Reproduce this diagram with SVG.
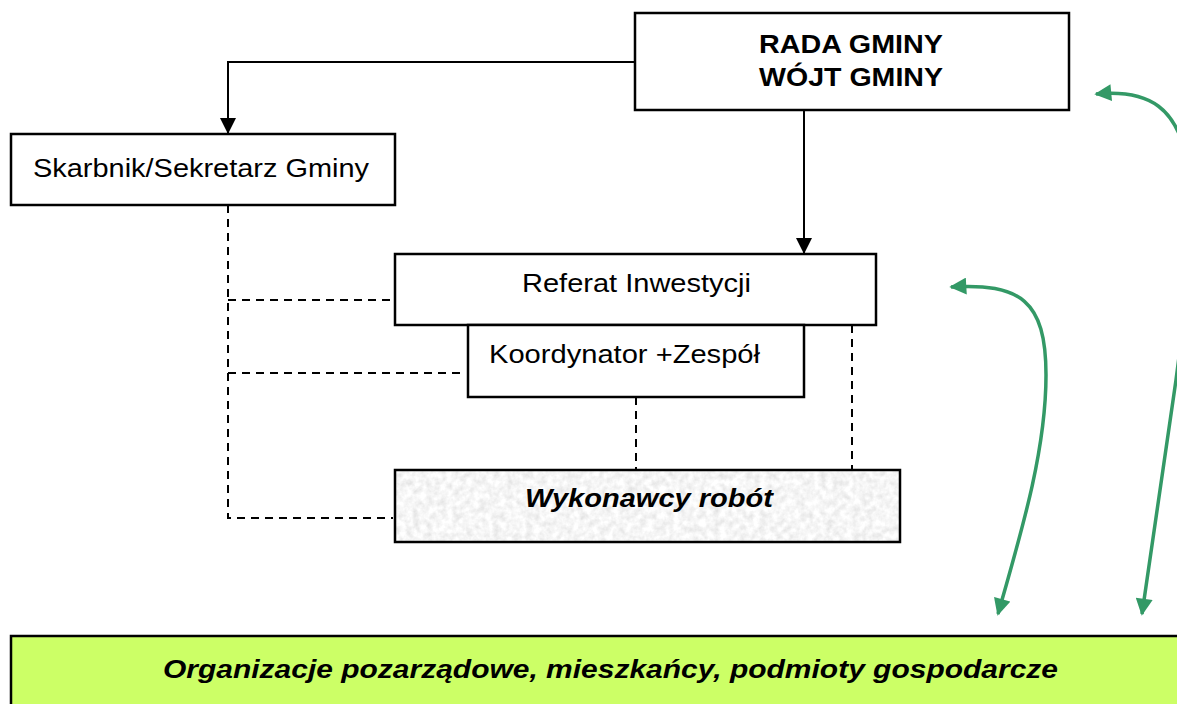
<svg xmlns="http://www.w3.org/2000/svg" width="1177" height="704" viewBox="0 0 1177 704">
<style>
.box{fill:#fff;stroke:#000;stroke-width:2.5}
.t{font-family:"Liberation Sans",Arial,sans-serif;font-size:26px;fill:#000}
.b{font-weight:bold}
.i{font-style:italic}
.conn{fill:none;stroke:#000;stroke-width:2}
.dash{fill:none;stroke:#000;stroke-width:2;stroke-dasharray:8 6}
.green{fill:none;stroke:#339966;stroke-width:3.5}
</style>
<defs>
<marker id="ah" viewBox="0 0 10 10" refX="10" refY="5" markerWidth="16" markerHeight="16" markerUnits="userSpaceOnUse" orient="auto">
<path d="M0,0 L10,5 L0,10 Z" fill="#000"/>
</marker>
<marker id="gh" viewBox="0 0 10 10" refX="9" refY="5" markerWidth="18" markerHeight="17" markerUnits="userSpaceOnUse" orient="auto-start-reverse">
<path d="M0,0 L10,5 L0,10 Z" fill="#339966"/>
</marker>
<filter id="noise" x="0" y="0" width="100%" height="100%">
<feTurbulence type="fractalNoise" baseFrequency="0.15" numOctaves="3" seed="4" result="t"/>
<feColorMatrix in="t" type="matrix" values="0.4 0 0 0 0.72  0.4 0 0 0 0.72  0.4 0 0 0 0.72  0 0 0 0 1" result="c"/>
<feComposite in="c" in2="SourceGraphic" operator="in"/>
</filter>
</defs>

<g id="connectors">
<path class="conn" d="M635,62 H228 V134" marker-end="url(#ah)"/>
<path class="conn" d="M804,110 V254" marker-end="url(#ah)"/>
<path class="dash" d="M228,205 V518 H393"/>
<path class="dash" d="M228,300 H393"/>
<path class="dash" d="M228,373 H466"/>
<path class="dash" d="M636,397 V469"/>
<path class="dash" d="M852,325 V469"/>
<path class="green" d="M1096,94 C1150,89 1178,108 1188,165 C1198,240 1186,300 1176,380 L1142,614" marker-start="url(#gh)" marker-end="url(#gh)"/>
<path class="green" d="M951,287 C1020,283 1046,300 1046,375 C1046,450 1022,530 998,614" marker-start="url(#gh)" marker-end="url(#gh)"/>
</g>

<g id="rada">
<rect class="box" x="635" y="13" width="434" height="97"/>
<text class="t b" x="851" y="53" text-anchor="middle" textLength="184" lengthAdjust="spacingAndGlyphs">RADA GMINY</text>
<text class="t b" x="851" y="86" text-anchor="middle" textLength="184" lengthAdjust="spacingAndGlyphs">WÓJT GMINY</text>
</g>

<g id="skarbnik">
<rect class="box" x="11" y="134" width="384" height="71"/>
<text class="t" x="33" y="177" textLength="336" lengthAdjust="spacingAndGlyphs">Skarbnik/Sekretarz Gminy</text>
</g>

<g id="referat">
<rect class="box" x="395" y="254" width="481" height="71"/>
<text class="t" x="522" y="292" textLength="229" lengthAdjust="spacingAndGlyphs">Referat Inwestycji</text>
</g>

<g id="koordynator">
<rect class="box" x="468" y="325" width="336" height="72"/>
<text class="t" x="489" y="363" textLength="271" lengthAdjust="spacingAndGlyphs">Koordynator +Zespół</text>
</g>

<g id="wykonawcy">
<rect x="395" y="470" width="505" height="72" fill="#000" filter="url(#noise)"/>
<rect x="395" y="470" width="505" height="72" fill="none" stroke="#000" stroke-width="2.5"/>
<text class="t b i" x="525" y="507" textLength="248" lengthAdjust="spacingAndGlyphs">Wykonawcy robót</text>
</g>

<g id="organizacje">
<rect x="11" y="636" width="1180" height="80" fill="#ccff66" stroke="#000" stroke-width="2.5"/>
<text class="t b i" x="163" y="678" textLength="895" lengthAdjust="spacingAndGlyphs">Organizacje pozarządowe, mieszkańcy, podmioty gospodarcze</text>
</g>
</svg>
